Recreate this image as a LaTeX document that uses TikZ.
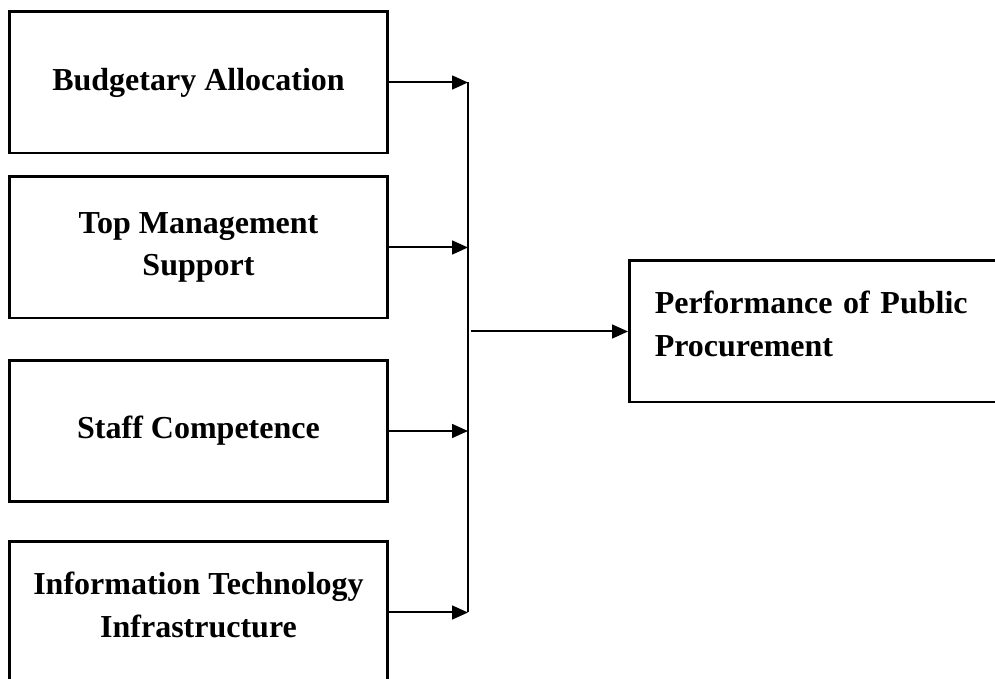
\documentclass[tikz,border=0pt]{standalone}
\usepackage{fontspec}
\setmainfont{Liberation Serif}
\usetikzlibrary{arrows.meta}

\begin{document}
\begin{tikzpicture}[
          x=0.375pt, y=-0.375pt,
          font=\fontsize{12}{16}\selectfont\bfseries,
          factor/.style={draw, line width=1.1pt, minimum width=142pt, minimum height=52.9pt, align=center, inner sep=0pt},
          outcome/.style={draw, line width=1.1pt, minimum width=142.5pt, minimum height=52.9pt, align=left, text width=123.5pt, inner xsep=7.8pt},
          link/.style={line width=0.75pt, -{Triangle[length=6pt, width=5.2pt]}}
        ]
        \useasboundingbox (0,0) rectangle (995,679);

        \node[factor] (budget) at (198.5, 82.5) {Budgetary Allocation};
        \node[factor] (topmgmt) at (198.5, 247.5) {Top Management\\Support};
        \node[factor] (staff) at (198.5, 431) {Staff Competence};
        \node[factor, text depth=6pt] (infra) at (198.5, 612.5) {Information Technology\\Infrastructure};

        \node[outcome, text depth=22pt, anchor=west] (perf) at (628, 331.5) {\makebox[\linewidth][s]{Performance of Public}\\Procurement};

        % Draw the collecting line between the factors and the outcome
        \coordinate (bus) at (468, 0);
        \draw[line width=0.5pt] (budget.east -| bus) -- (infra.east -| bus);
        \foreach \f in {budget, topmgmt, staff, infra}
          \draw[link] (\f.east) -- (\f.east -| bus);
        \draw[link] ([xshift=1pt]bus |- perf.west) -- (perf.west);
      \end{tikzpicture}
\end{document}
